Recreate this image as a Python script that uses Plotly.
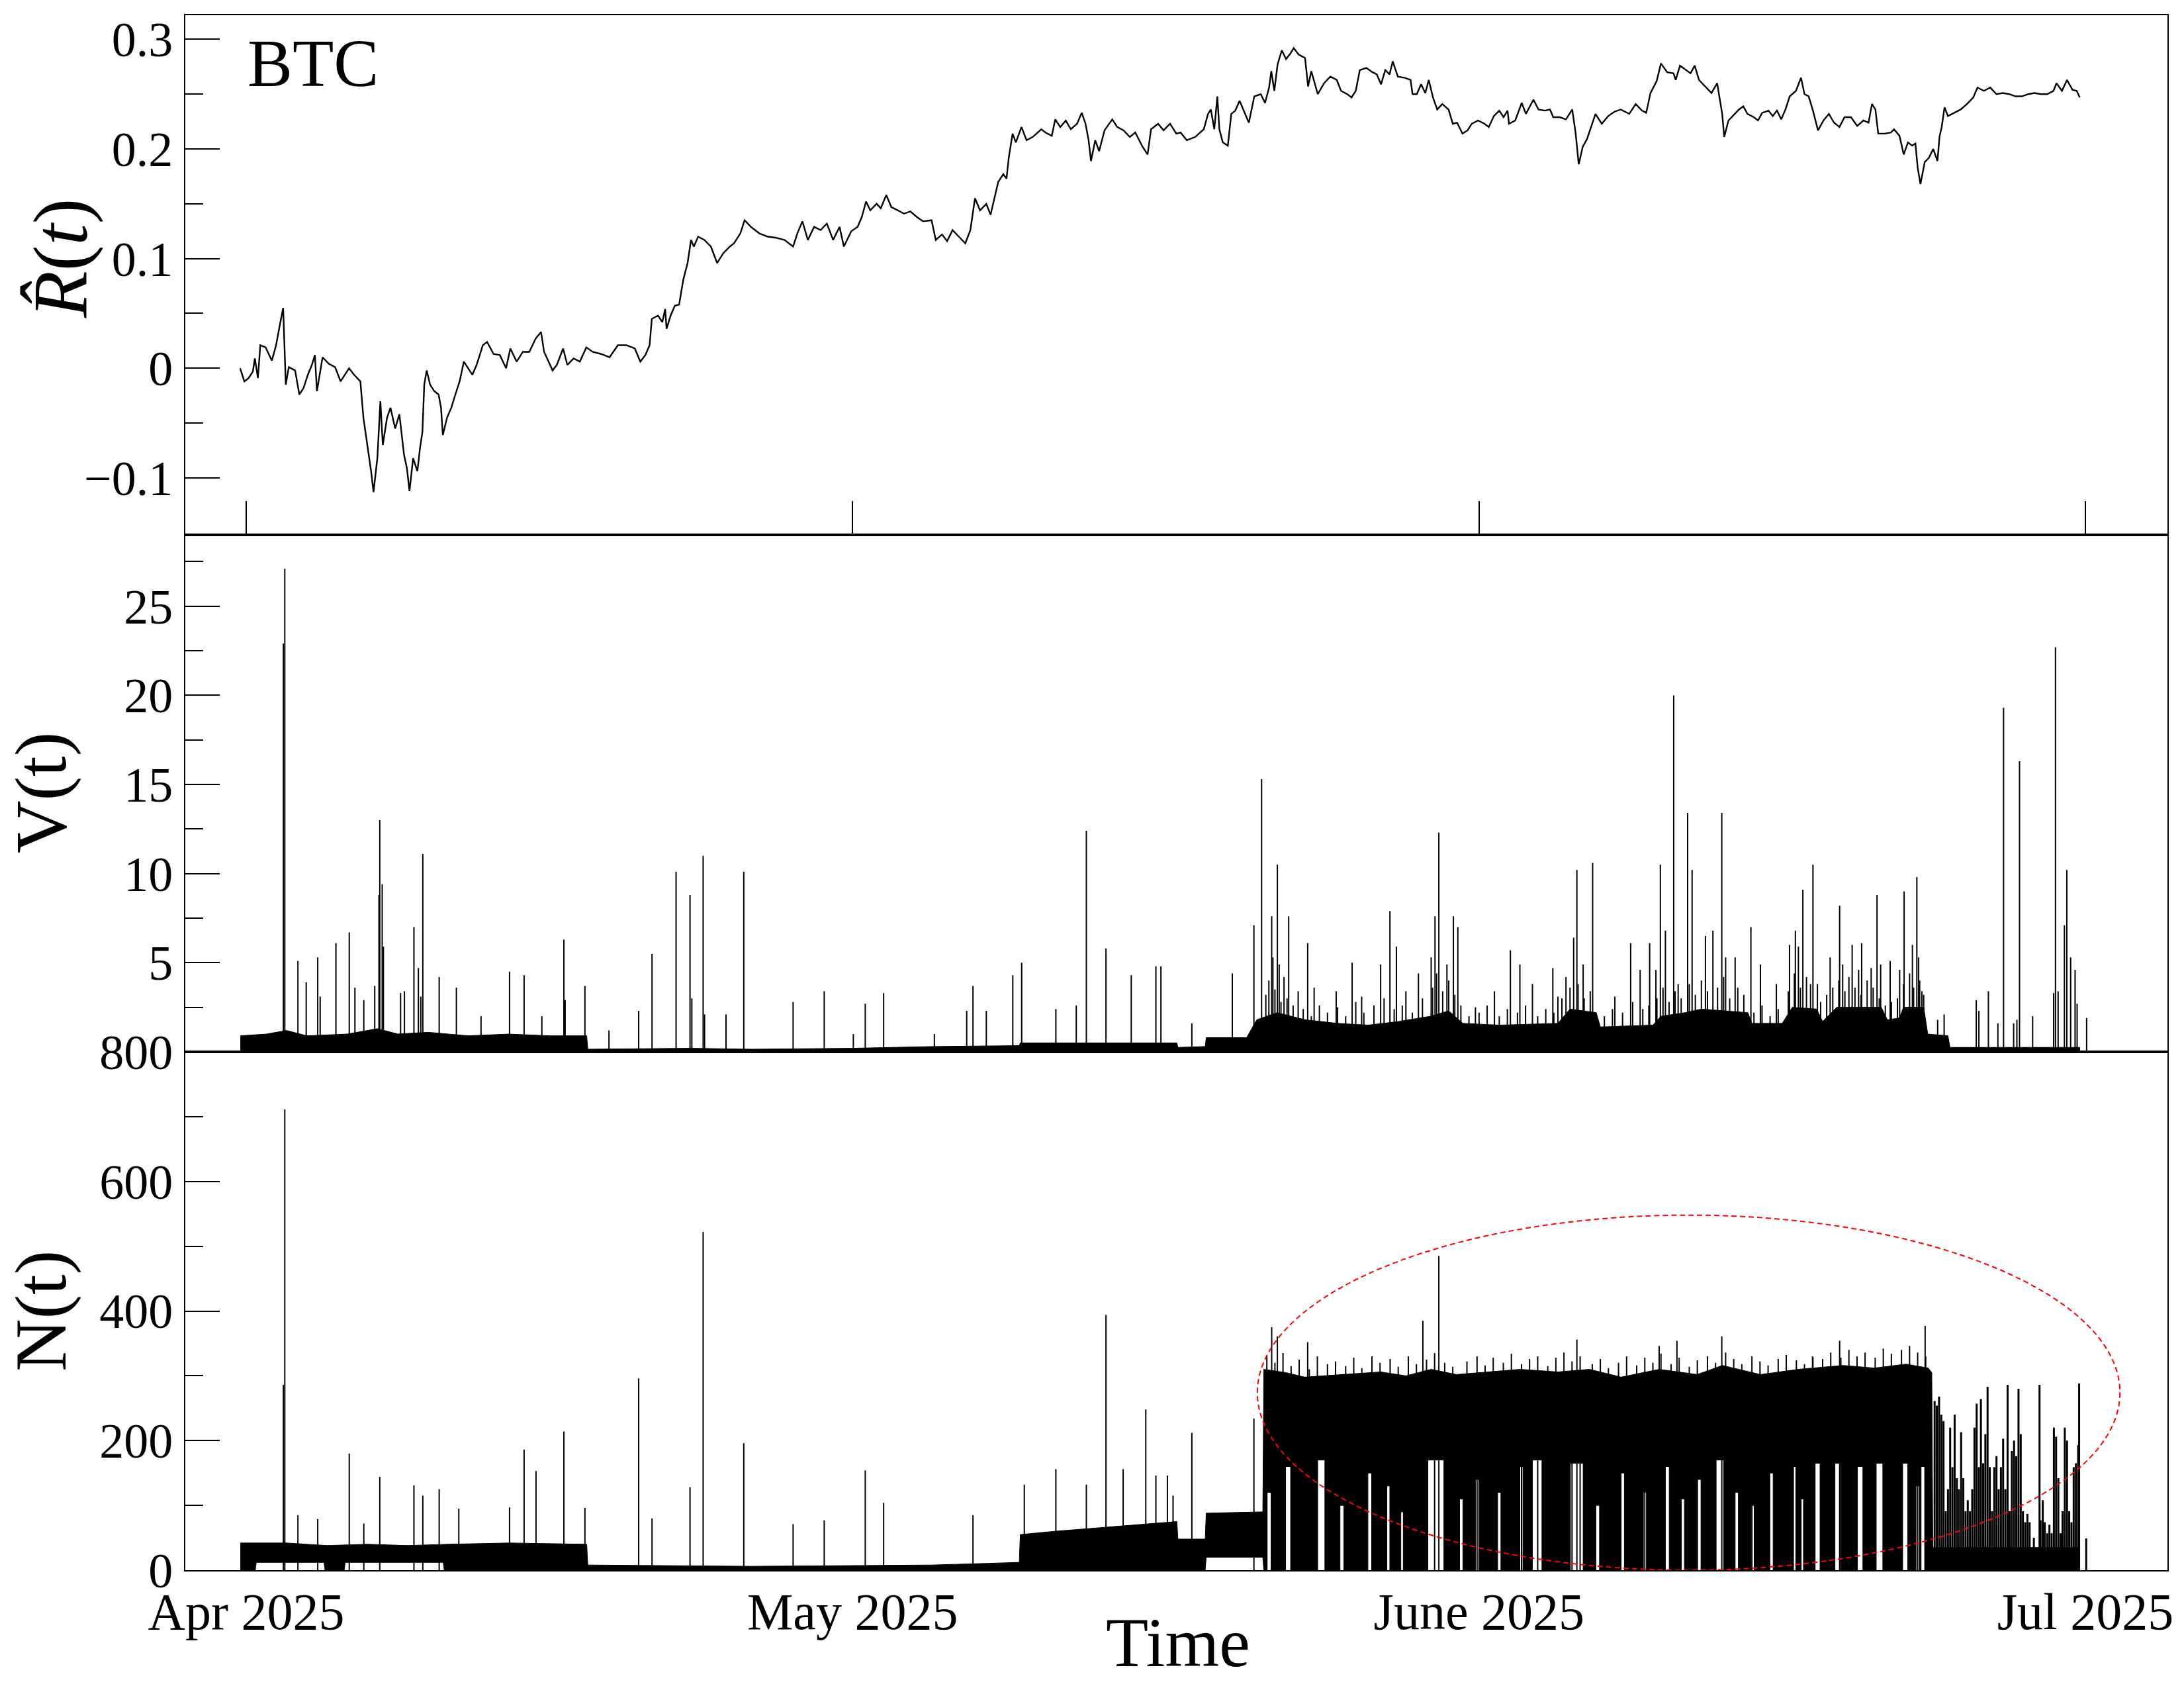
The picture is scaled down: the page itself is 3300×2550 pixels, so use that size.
import pandas as pd
import plotly.graph_objects as go

T0 = pd.Timestamp("2025-04-01")

# ---------------- R-hat(t) (days since 2025-04-01, value) ----------------
R_days = [
    -0.30, -0.09, 0.12, 0.33, 0.43, 0.58, 0.70, 0.96, 1.27, 1.48,
    1.69, 1.83, 1.96, 2.11, 2.42, 2.63, 2.84, 3.05, 3.25, 3.40,
    3.50, 3.78, 4.09, 4.40, 4.67, 5.09, 5.34, 5.65, 5.80, 5.97,
    6.18, 6.30, 6.49, 6.64, 6.76, 6.97, 7.14, 7.37, 7.58, 7.81,
    7.95, 8.08, 8.26, 8.47, 8.60, 8.72, 8.81, 8.93, 9.10, 9.31,
    9.52, 9.64, 9.73, 9.94, 10.15, 10.35, 10.56, 10.77, 10.98, 11.19,
    11.40, 11.71, 11.92, 12.24, 12.55, 12.86, 13.07, 13.38, 13.69, 14.01,
    14.32, 14.59, 14.74, 14.95, 15.16, 15.37, 15.68, 15.89, 16.20, 16.51,
    16.83, 17.14, 17.56, 17.98, 18.39, 18.81, 19.23, 19.50, 19.75, 19.96,
    20.07, 20.38, 20.59, 20.73, 20.80, 21.00, 21.21, 21.42, 21.63, 21.84,
    22.01, 22.15, 22.36, 22.67, 22.99, 23.30, 23.61, 23.93, 24.14, 24.45,
    24.66, 24.97, 25.39, 25.81, 26.22, 26.64, 27.06, 27.27, 27.52, 27.79,
    28.10, 28.42, 28.73, 29.04, 29.36, 29.57, 29.73, 29.94, 30.25, 30.46,
    30.67, 30.88, 31.19, 31.40, 31.67, 31.92, 32.24, 32.55, 32.86, 33.18,
    33.49, 33.91, 34.12, 34.43, 34.68, 34.95, 35.26, 35.58, 35.83, 36.06,
    36.31, 36.62, 36.83, 37.00, 37.21, 37.46, 37.62, 37.73, 37.92, 38.08,
    38.36, 38.61, 38.92, 39.34, 39.55, 39.86, 40.03, 40.28, 40.55, 40.80,
    41.11, 41.34, 41.53, 41.68, 41.80, 42.01, 42.20, 42.47, 42.85, 43.10,
    43.41, 43.72, 43.99, 44.35, 44.60, 44.77, 45.12, 45.39, 45.71, 46.02,
    46.23, 46.54, 46.96, 47.38, 47.59, 47.73, 47.90, 48.05, 48.15, 48.32,
    48.57, 48.74, 48.94, 49.15, 49.36, 49.61, 49.88, 50.20, 50.41, 50.61,
    50.72, 50.87, 51.03, 51.24, 51.45, 51.66, 51.83, 52.08, 52.39, 52.54,
    52.70, 53.02, 53.33, 53.64, 53.96, 54.17, 54.48, 54.69, 54.90, 55.10,
    55.42, 55.73, 55.94, 56.15, 56.36, 56.57, 56.73, 56.98, 57.30, 57.61,
    57.71, 57.92, 58.13, 58.34, 58.51, 58.72, 58.93, 59.18, 59.49, 59.70,
    59.91, 60.18, 60.43, 60.64, 60.95, 61.27, 61.48, 61.73, 62.00, 62.21,
    62.41, 62.48, 62.79, 63.11, 63.32, 63.69, 63.94, 64.26, 64.51, 64.67,
    64.99, 65.30, 65.61, 65.78, 65.93, 66.13, 66.34, 66.55, 66.76, 67.07,
    67.39, 67.70, 68.01, 68.43, 68.75, 69.06, 69.27, 69.48, 69.79, 70.00,
    70.31, 70.62, 70.73, 70.94, 71.25, 71.46, 71.67, 71.88, 72.19, 72.50,
    72.78, 72.92, 73.03, 73.13, 73.34, 73.65, 73.86, 74.07, 74.28, 74.59,
    74.80, 75.01, 75.32, 75.53, 75.74, 75.95, 76.16, 76.37, 76.68, 76.93,
    77.10, 77.31, 77.52, 77.77, 78.04, 78.31, 78.56, 78.83, 79.08, 79.40,
    79.71, 80.02, 80.27, 80.44, 80.61, 80.75, 81.07, 81.38, 81.53, 81.80,
    82.01, 82.22, 82.43, 82.59, 82.70, 82.84, 83.05, 83.26, 83.47, 83.68,
    83.78, 83.89, 84.03, 84.20, 84.51, 84.83, 85.14, 85.45, 85.66, 85.98,
    86.29, 86.60, 86.92, 87.23, 87.54, 87.86, 88.17, 88.48, 88.80, 89.11,
    89.42, 89.57, 89.84, 90.09, 90.36, 90.57, 90.72,
]
R_vals = [
    0.000, -0.012, -0.009, -0.003, 0.009, -0.009, 0.021, 0.019, 0.007, 0.021,
    0.042, 0.055, -0.015, 0.001, -0.002, -0.024, -0.018, -0.006, 0.003, 0.012,
    -0.021, 0.010, 0.004, 0.001, -0.012, 0.000, -0.006, -0.012, -0.045, -0.067,
    -0.094, -0.113, -0.082, -0.030, -0.070, -0.045, -0.036, -0.055, -0.042, -0.079,
    -0.091, -0.112, -0.082, -0.094, -0.073, -0.058, -0.015, -0.002, -0.015, -0.021,
    -0.024, -0.036, -0.061, -0.045, -0.036, -0.024, -0.012, 0.006, 0.000, -0.006,
    0.003, 0.021, 0.024, 0.013, 0.012, 0.000, 0.018, 0.006, 0.015, 0.015,
    0.027, 0.033, 0.015, 0.006, -0.002, 0.003, 0.018, 0.003, 0.009, 0.006,
    0.019, 0.015, 0.013, 0.010, 0.021, 0.021, 0.018, 0.006, 0.012, 0.021,
    0.045, 0.048, 0.042, 0.054, 0.036, 0.048, 0.057, 0.058, 0.081, 0.096,
    0.117, 0.111, 0.120, 0.117, 0.111, 0.096, 0.105, 0.111, 0.114, 0.123,
    0.135, 0.129, 0.123, 0.120, 0.119, 0.117, 0.111, 0.123, 0.134, 0.117,
    0.129, 0.126, 0.132, 0.117, 0.129, 0.111, 0.117, 0.125, 0.129, 0.138,
    0.152, 0.144, 0.150, 0.146, 0.158, 0.147, 0.144, 0.141, 0.143, 0.138,
    0.134, 0.135, 0.117, 0.122, 0.116, 0.126, 0.120, 0.114, 0.126, 0.155,
    0.144, 0.150, 0.140, 0.153, 0.170, 0.177, 0.173, 0.192, 0.214, 0.206,
    0.220, 0.208, 0.211, 0.218, 0.215, 0.212, 0.227, 0.220, 0.226, 0.218,
    0.223, 0.233, 0.223, 0.208, 0.189, 0.208, 0.198, 0.217, 0.227, 0.220,
    0.217, 0.211, 0.215, 0.202, 0.195, 0.218, 0.223, 0.217, 0.223, 0.214,
    0.215, 0.208, 0.211, 0.218, 0.232, 0.236, 0.218, 0.248, 0.218, 0.206,
    0.203, 0.232, 0.235, 0.244, 0.235, 0.224, 0.248, 0.250, 0.242, 0.256,
    0.271, 0.253, 0.277, 0.290, 0.282, 0.287, 0.292, 0.286, 0.283, 0.257,
    0.271, 0.250, 0.260, 0.266, 0.263, 0.253, 0.250, 0.247, 0.253, 0.272,
    0.274, 0.270, 0.268, 0.259, 0.272, 0.268, 0.280, 0.266, 0.265, 0.263,
    0.250, 0.250, 0.259, 0.251, 0.263, 0.247, 0.236, 0.241, 0.236, 0.223,
    0.224, 0.214, 0.217, 0.223, 0.226, 0.223, 0.220, 0.230, 0.235, 0.229,
    0.235, 0.223, 0.226, 0.242, 0.232, 0.245, 0.236, 0.235, 0.236, 0.229,
    0.229, 0.227, 0.236, 0.214, 0.186, 0.202, 0.209, 0.221, 0.232, 0.223,
    0.230, 0.234, 0.236, 0.232, 0.241, 0.235, 0.233, 0.251, 0.262, 0.278,
    0.270, 0.269, 0.263, 0.276, 0.272, 0.269, 0.276, 0.263, 0.257, 0.251,
    0.260, 0.244, 0.232, 0.211, 0.226, 0.232, 0.236, 0.239, 0.232, 0.229,
    0.226, 0.233, 0.235, 0.230, 0.235, 0.227, 0.236, 0.248, 0.253, 0.265,
    0.250, 0.248, 0.235, 0.217, 0.226, 0.232, 0.224, 0.220, 0.229, 0.229,
    0.221, 0.226, 0.224, 0.241, 0.236, 0.214, 0.214, 0.215, 0.218, 0.212,
    0.195, 0.206, 0.203, 0.205, 0.183, 0.168, 0.188, 0.192, 0.200, 0.189,
    0.211, 0.220, 0.238, 0.230, 0.233, 0.236, 0.241, 0.247, 0.256, 0.253,
    0.256, 0.250, 0.251, 0.250, 0.248, 0.248, 0.250, 0.251, 0.250, 0.250,
    0.253, 0.260, 0.253, 0.263, 0.254, 0.253, 0.247,
]

# ---------------- V(t) ----------------
V_band_days = [
    -0.29, 1.0, 2.0, 3.0, 5.0, 6.5, 7.5, 9.0, 11.0, 13.0,
    15.0, 16.85, 16.9, 22.0, 25.0, 30.0, 34.0, 38.25, 38.3, 40.0,
    43.0, 46.05, 46.1, 47.45, 47.5, 49.5, 50.0, 51.0, 52.4, 54.0,
    55.5, 57.0, 58.6, 59.5, 60.2, 62.0, 64.9, 65.5, 66.8, 67.0,
    69.6, 70.0, 71.2, 72.0, 74.3, 74.5, 76.0, 76.5, 77.7, 78.0,
    78.7, 80.9, 81.2, 81.8, 82.0, 83.0, 83.2, 84.2, 84.3, 90.72,
]
V_band_vals = [
    0.9, 1.0, 1.2, 0.9, 1.0, 1.3, 1.0, 1.1, 0.9, 1.0,
    0.9, 0.9, 0.15, 0.2, 0.15, 0.2, 0.3, 0.35, 0.5, 0.5,
    0.5, 0.5, 0.25, 0.3, 0.8, 0.8, 1.8, 2.2, 1.8, 1.6,
    1.5, 1.7, 2.0, 2.3, 1.6, 1.5, 1.6, 2.4, 2.2, 1.4,
    1.5, 2.0, 2.2, 2.4, 2.2, 1.6, 1.6, 2.5, 2.4, 1.7,
    2.5, 2.5, 1.8, 1.9, 2.5, 2.5, 1.0, 0.9, 0.25, 0.25,
]
V_spike_days = [
    1.84, 1.91, 2.56, 2.97, 3.54, 3.66, 4.44, 5.10, 5.38, 5.82,
    6.36, 6.57, 6.61, 6.73, 6.79, 7.64, 7.83, 8.30, 8.52, 8.64,
    8.74, 9.55, 10.40, 11.62, 13.03, 13.75, 14.63, 15.72, 15.78, 16.76,
    17.95, 19.42, 20.08, 21.27, 21.96, 22.05, 22.61, 22.68, 23.74, 24.62,
    27.06, 28.60, 30.04, 30.63, 31.54, 34.05, 35.65, 35.96, 36.62, 37.93,
    38.37, 40.06, 41.07, 41.57, 42.54, 43.79, 45.01, 45.26,
    46.79, 48.79, 49.86, 50.24, 50.74, 51.02, 51.58, 52.52, 54.72, 56.59,
    56.91, 58.82, 59.01, 59.73, 59.95, 62.55, 64.65, 65.84, 66.62, 68.50,
    69.44, 69.97, 70.63, 71.32, 71.54, 72.20, 73.01, 74.45, 76.36, 77.02,
    77.52, 78.84, 79.93, 80.69, 82.03, 82.66, 85.60, 86.95, 87.74, 88.39,
    89.52, 90.08, 90.49, 91.06,
    50.80, 51.11, 52.05, 52.84, 53.93, 55.19, 56.13, 57.38, 58.00, 58.63,
    59.41, 60.82, 61.76, 63.02, 63.64, 64.90, 65.68, 66.15, 67.72, 68.97,
    69.75, 70.22, 70.85, 72.57, 73.20, 73.67, 74.92, 75.71, 76.65, 76.80,
    77.74, 78.37, 78.99, 79.46, 79.78, 80.40, 80.87, 81.34, 81.81, 82.44,
    82.75, 82.91, 83.69, 84.01, 85.73, 86.20, 86.67, 87.45, 87.61, 89.43,
    89.65, 89.96, 90.27, 90.59,
]
V_spike_vals = [
    22.9, 27.1, 5.1, 3.9, 5.3, 3.1, 6.1, 6.7, 3.6, 2.9,
    3.7, 8.8, 13.0, 9.4, 5.9, 3.3, 3.4, 7.0, 4.7, 3.1,
    11.1, 4.2, 3.6, 2.0, 4.5, 4.3, 2.0, 6.3, 2.9, 3.7,
    1.2, 2.3, 5.5, 10.1, 8.8, 3.0, 11.0, 2.1, 2.1, 10.1,
    2.8, 3.4, 1.0, 2.7, 3.3, 1.0, 2.3, 3.7, 2.3, 4.3,
    5.0, 2.4, 2.6, 12.4, 5.8, 4.3, 4.8, 4.8,
    1.6, 4.4, 7.1, 15.3, 7.6, 10.5, 7.6, 6.1, 5.0, 7.9,
    5.9, 7.6, 12.3, 7.6, 7.0, 5.7, 4.7, 10.2, 10.6, 6.1,
    6.1, 10.5, 20.0, 13.4, 10.2, 6.5, 13.4, 7.0, 6.0, 9.1,
    10.5, 8.2, 6.1, 8.8, 9.0, 9.8, 2.9, 19.3, 16.3, 2.0,
    22.7, 10.2, 4.6, 1.9,
    5.3, 4.9, 3.4, 3.6, 3.4, 3.1, 4.9, 3.4, 4.4, 5.3,
    4.9, 2.5, 3.4, 4.9, 3.8, 3.1, 6.4, 4.9, 3.1, 4.6,
    4.6, 6.8, 3.8, 6.8, 5.3, 5.3, 4.9, 3.8, 6.8, 5.9,
    3.8, 5.3, 4.9, 6.0, 4.6, 4.7, 4.9, 5.1, 4.6, 6.0,
    5.3, 3.4, 1.8, 2.1, 2.3, 3.4, 1.6, 1.6, 1.8, 3.3,
    3.4, 7.1, 5.3, 2.7,
]
# dense small bursts of V(t) during the busy period
V_burst_days = [
    50.45, 50.60, 50.90, 51.20, 51.35, 51.50, 51.80, 52.30, 52.70, 53.10,
    53.50, 54.00, 54.40, 54.90, 55.30, 55.80, 56.30, 56.80, 57.20, 57.70,
    58.20, 58.70, 58.90, 59.20, 59.50, 59.80, 60.10, 60.50, 61.00, 61.40,
    62.00, 62.40, 62.90, 63.30, 63.90, 64.30, 64.70, 65.10, 65.30, 65.50,
    65.90, 66.20, 66.50, 67.20, 67.60, 68.10, 68.60, 69.10, 69.40, 69.80,
    70.10, 70.40, 70.70, 71.00, 71.40, 71.70, 72.00, 72.30, 72.80, 73.10,
    73.40, 73.80, 74.10, 74.60, 75.00, 75.40, 75.80, 76.30, 76.60, 76.90,
    77.20, 77.40, 77.90, 78.20, 78.50, 78.80, 79.10, 79.30, 79.60, 79.90,
    80.20, 80.50, 80.80, 81.10, 81.40, 81.70, 82.00, 82.30, 82.50, 82.80,
    83.00,
]
V_burst_vals = [
    3.2, 4.0, 3.5, 2.8, 4.2, 3.0, 2.6, 2.4, 2.0, 2.6,
    2.2, 2.5, 2.0, 2.8, 2.2, 2.6, 3.0, 2.4, 2.6, 2.2,
    3.0, 3.6, 4.4, 3.4, 4.0, 3.2, 2.6, 2.0, 2.2, 2.6,
    2.0, 2.4, 2.2, 2.6, 2.0, 2.4, 2.2, 3.0, 4.2, 3.6,
    3.8, 3.0, 3.4, 2.0, 2.4, 2.2, 2.8, 2.4, 2.6, 3.0,
    3.6, 2.8, 3.4, 3.0, 3.8, 3.2, 4.0, 3.4, 3.6, 4.2,
    3.0, 3.6, 3.2, 2.2, 2.6, 2.0, 2.4, 3.4, 4.4, 3.6,
    4.2, 3.8, 2.8, 3.2, 3.6, 4.0, 3.4, 4.2, 3.6, 3.2,
    4.0, 3.6, 3.0, 2.6, 2.8, 3.0, 3.8, 4.4, 3.6, 4.0,
    3.2,
]

# ---------------- N(t) ----------------
N_hi_days = [
    -0.29, 2.0, 4.0, 6.0, 8.0, 10.0, 13.0, 16.85, 16.9, 25.0,
    34.0, 38.25, 38.3, 40.0, 42.0, 44.0, 46.05, 46.1, 47.45, 47.5,
    50.3, 50.35, 51.43, 52.37, 54.25, 56.13, 57.38, 58.63, 59.88, 61.45,
    63.02, 64.90, 66.46, 68.03, 69.91, 71.79, 73.04, 74.92, 76.80, 79.00,
    80.56, 82.13, 83.22, 83.40, 83.45, 90.72,
]
N_hi_vals = [
    42, 42, 38, 40, 38, 40, 42, 40, 8, 6,
    8, 12, 55, 60, 65, 70, 75, 48, 48, 88,
    90, 310, 305, 298, 302, 306, 300, 310, 302, 306,
    310, 306, 310, 298, 310, 302, 316, 302, 310, 316,
    312, 318, 312, 305, 35, 35,
]
N_lo_days = [-0.29, 0.45, 0.5, 3.85, 3.9, 4.85, 4.9, 9.75, 9.8, 47.45, 47.5, 50.3, 50.35, 90.72]
N_lo_vals = [0, 0, 12, 12, 0, 0, 12, 12, 0, 0, 20, 20, 0, 0]
# periods inside the busy block where N(t) stays high (white gaps near the bottom)
N_gap_start = [
    50.49, 51.43, 52.99, 54.12, 55.50, 56.44, 57.13, 58.47, 60.04, 60.82,
    61.92, 63.02, 63.64, 65.52, 66.78, 68.03, 69.13, 70.22, 71.01, 71.79,
    72.73, 73.67, 74.45, 75.39, 76.56, 76.94, 77.63, 78.61, 79.72, 80.65,
    81.96, 82.62, 82.87,
]
N_gap_end = [
    50.71, 51.68, 53.37, 54.31, 55.69, 56.63, 57.25, 59.26, 60.20, 60.98,
    62.08, 63.17, 64.11, 66.15, 66.96, 68.19, 69.28, 70.41, 71.16, 71.98,
    73.10, 73.83, 74.61, 75.55, 76.67, 77.05, 77.87, 78.92, 79.99, 80.98,
    82.21, 82.78, 83.05,
]
N_gap_level = [
    120, 160, 170, 100, 150, 130, 90, 170, 110, 140,
    120, 160, 170, 165, 100, 150, 120, 160, 110, 140,
    170, 120, 100, 150, 160, 110, 165, 165, 160, 165,
    165, 130, 160,
]
N_spike_days = [
    1.84, 1.91, 2.56, 3.54, 5.10, 5.82, 6.61, 8.30, 8.74, 9.55,
    10.52, 13.03, 13.75, 14.34, 15.72, 16.76, 19.42, 20.08, 21.96, 22.61,
    24.62, 27.06, 28.60, 30.63, 31.54, 35.96, 38.50, 40.06, 41.57, 42.54,
    43.39, 44.51, 45.01, 45.58, 45.86,
    46.79, 49.86, 50.74, 51.02, 52.52, 58.22, 59.01, 65.84, 69.91, 70.79,
    73.01, 77.52, 78.84, 83.07,
]
N_spike_vals = [
    286, 711, 85, 79, 180, 72, 144, 131, 115, 125,
    95, 97, 186, 153, 214, 96, 296, 80, 128, 522,
    196, 71, 77, 154, 104, 85, 132, 156, 132, 394,
    156, 248, 146, 146, 115,
    212, 234, 375, 361, 352, 385, 485, 356, 346, 354,
    361, 328, 354, 377,
]
# ragged upper edge of the busy block
N_top_days = [
    50.5, 50.9, 51.3, 51.7, 52.1, 52.6, 53.0, 53.5, 53.9, 54.4,
    54.8, 55.2, 55.7, 56.1, 56.6, 57.0, 57.5, 57.9, 58.4, 58.8,
    59.3, 59.7, 60.4, 60.9, 61.3, 61.7, 62.2, 62.6, 63.1, 63.5,
    63.9, 64.4, 64.8, 65.2, 65.6, 66.0, 66.6, 67.0, 67.4, 67.9,
    68.3, 68.8, 69.2, 69.6, 70.0, 70.5, 70.9, 71.4, 71.8, 72.3,
    72.7, 73.2, 73.6, 74.0, 74.5, 74.9, 75.3, 75.8, 76.2, 76.7,
    77.1, 77.5, 78.0, 78.4, 78.9, 79.3, 79.7, 80.1, 80.6, 81.0,
    81.4, 81.9, 82.3, 82.7, 83.1,
]
N_top_vals = [
    330, 320, 335, 315, 325, 310, 330, 318, 322, 315,
    328, 312, 330, 320, 326, 314, 330, 318, 325, 335,
    320, 314, 322, 330, 316, 328, 320, 334, 318, 326,
    330, 315, 328, 336, 322, 330, 318, 326, 312, 320,
    330, 316, 328, 320, 334, 318, 328, 314, 324, 330,
    320, 336, 326, 318, 330, 322, 316, 326, 332, 324,
    318, 330, 326, 336, 328, 340, 330, 336, 328, 342,
    334, 340, 346, 336, 330,
]
# late-June thinning part (bunches of lines)
N_late_days = [
    83.54, 83.65, 83.76, 83.87, 83.98, 84.09, 84.20, 84.31, 84.42, 84.53,
    84.64, 84.74, 84.85, 84.96, 85.07, 85.18, 85.29, 85.40, 85.51, 85.62,
    85.73, 85.83, 85.94, 86.05, 86.16, 86.27, 86.38, 86.49, 86.60, 86.71,
    86.82, 86.93, 87.04, 87.15, 87.25, 87.36, 87.47, 87.58, 87.69, 87.80,
    87.91, 88.02, 88.13, 88.24, 88.35, 88.45, 88.56, 88.73, 88.78, 88.89,
    88.99, 89.11, 89.22, 89.33, 89.44, 89.55, 89.66, 89.77, 89.87, 89.98,
    90.09, 90.20, 90.31, 90.42, 90.53, 90.64, 90.69, 91.04,
]
N_late_vals = [
    261, 254, 268, 240, 230, 91, 125, 220, 159, 240,
    142, 125, 213, 142, 91, 108, 91, 125, 220, 257,
    159, 264, 165, 210, 283, 159, 91, 159, 176, 125,
    159, 203, 125, 286, 91, 184, 200, 176, 280, 210,
    91, 74, 87, 74, 6, 50, 6, 286, 77, 108,
    74, 57, 70, 57, 220, 206, 142, 57, 91, 220,
    200, 91, 74, 159, 165, 193, 288, 49,
]

# highlighted region (ellipse): time span in days and N span
ELL_days = [50.03, 92.71]
ELL_N = [0, 548]

MONTHS = ["2025-04-01", "2025-05-01", "2025-06-01", "2025-07-01"]
MONTH_LABELS = ["Apr 2025", "May 2025", "June 2025", "Jul 2025"]
X_RANGE = ["2025-03-28 23:43", "2025-07-05 01:26"]


def dt(days):
    return [(T0 + pd.Timedelta(days=float(d))).strftime("%Y-%m-%d %H:%M:%S") for d in days]


def spikes(days, vals):
    xs, ys = [], []
    for s, v in zip(dt(days), vals):
        xs += [s, s, None]
        ys += [0, v, None]
    return xs, ys


def band(hi_t, hi_v, lo_t, lo_v, g0=(), g1=(), gl=()):
    pts = [(t, 0, v) for t, v in zip(lo_t, lo_v)]
    for a, b, l in zip(g0, g1, gl):
        pts += [(a, 0, 0), (a, 1, l), (b, 2, l), (b, 3, 0)]
    pts.sort(key=lambda p: (p[0], p[1]))
    lt = [p[0] for p in pts]
    lv = [p[2] for p in pts]
    xs = dt(hi_t) + dt(lt[::-1])
    ys = list(hi_v) + lv[::-1]
    return xs, ys


FONT = "Liberation Serif"
fig = go.Figure()


def add_lines(x, y, ax, ay, w):
    fig.add_trace(go.Scatter(x=x, y=y, mode="lines", line=dict(color="black", width=w),
                             xaxis=ax, yaxis=ay, hoverinfo="skip", showlegend=False))


def add_fill(x, y, ax, ay):
    fig.add_trace(go.Scatter(x=x, y=y, fill="toself", fillcolor="black", mode="lines",
                             line=dict(color="black", width=1), xaxis=ax, yaxis=ay,
                             hoverinfo="skip", showlegend=False))


# top panel
add_lines(dt(R_days), R_vals, "x", "y", 2.4)

# middle panel
add_fill(*band(V_band_days, V_band_vals, [-0.29, 90.72], [0, 0]), "x2", "y2")
add_lines(*spikes(V_burst_days, V_burst_vals), "x2", "y2", 2)
add_lines(*spikes(V_spike_days, V_spike_vals), "x2", "y2", 2)

# bottom panel
add_fill(*band(N_hi_days, N_hi_vals, N_lo_days, N_lo_vals, N_gap_start, N_gap_end, N_gap_level), "x3", "y3")
add_lines(*spikes(N_top_days, N_top_vals), "x3", "y3", 2)
add_lines(*spikes(N_spike_days, N_spike_vals), "x3", "y3", 2)
add_lines(*spikes(N_late_days, N_late_vals), "x3", "y3", 3)

e = dt(ELL_days)
fig.add_shape(type="circle", xref="x3", yref="y3", x0=e[0], x1=e[1], y0=ELL_N[0], y1=ELL_N[1],
              line=dict(color="red", width=2, dash="8px,5px"), layer="above")

H = 2349.0
d_bot = [0, 783 / H]
d_mid = [783 / H, 1564 / H]
d_top = [1564 / H, 1]

common_x = dict(range=X_RANGE, type="date", showline=True, mirror=True, linecolor="black",
                linewidth=2, showgrid=False, zeroline=False, tickvals=MONTHS, automargin=False)
common_y = dict(showline=True, mirror=True, linecolor="black", linewidth=2, showgrid=False,
                zeroline=False, ticks="inside", ticklen=52, tickwidth=2, tickcolor="black",
                tickfont=dict(family=FONT, size=74, color="black"), ticklabelstandoff=2,
                automargin=False)

fig.update_layout(
    width=3300, height=2550,
    margin=dict(l=280, r=25, t=23, b=178, autoexpand=False),
    paper_bgcolor="white", plot_bgcolor="white",
    font=dict(family=FONT, color="black"),
    showlegend=False,
    xaxis=dict(common_x, domain=[0, 1], anchor="y", ticks="inside", ticklen=51, tickwidth=2,
               tickcolor="black", showticklabels=False),
    xaxis2=dict(common_x, domain=[0, 1], anchor="y2", ticks="", showticklabels=False),
    xaxis3=dict(common_x, domain=[0, 1], anchor="y3", ticks="", ticktext=MONTH_LABELS,
                tickfont=dict(family=FONT, size=78, color="black"), ticklabelstandoff=-7),
    yaxis=dict(common_y, domain=d_top, anchor="x", range=[-0.152, 0.322],
               tickvals=[-0.1, 0, 0.1, 0.2, 0.3], ticktext=["\u22120.1", "0", "0.1", "0.2", "0.3"],
               minor=dict(tickvals=[-0.05, 0.05, 0.15, 0.25], ticks="inside", ticklen=27,
                          tickwidth=2, tickcolor="black")),
    yaxis2=dict(common_y, domain=d_mid, anchor="x2", range=[0, 29.0],
                tickvals=[5, 10, 15, 20, 25], ticktext=["5", "10", "15", "20", "25"],
                minor=dict(tickvals=[2.5, 7.5, 12.5, 17.5, 22.5, 27.5], ticks="inside", ticklen=27,
                           tickwidth=2, tickcolor="black")),
    yaxis3=dict(common_y, domain=d_bot, anchor="x3", range=[0, 800],
                tickvals=[0, 200, 400, 600, 800], ticktext=["0", "200", "400", "600", "800"],
                minor=dict(tickvals=[100, 300, 500, 700], ticks="inside", ticklen=27,
                           tickwidth=2, tickcolor="black")),
)

W = 2995.0


def px_x(p):
    return (p - 280) / W


def px_y(p):
    return 1 - (p - 23) / H


def label(text, x, y, size, angle=0, xanchor="center"):
    fig.add_annotation(text=text, xref="paper", yref="paper", x=px_x(x), y=px_y(y),
                       xanchor=xanchor, yanchor="middle", textangle=angle, showarrow=False,
                       font=dict(family=FONT, size=size, color="black"))


label("BTC", 372, 95, 102, xanchor="left")
label("<i>R\u0302</i>(<i>t</i>)", 92, 391, 116, angle=-90)
label("V(t)", 62, 1198, 110, angle=-90)
label("N(t)", 62, 1981, 110, angle=-90)
label("Time", 1780, 2482, 105)

fig.write_html("out.html")
